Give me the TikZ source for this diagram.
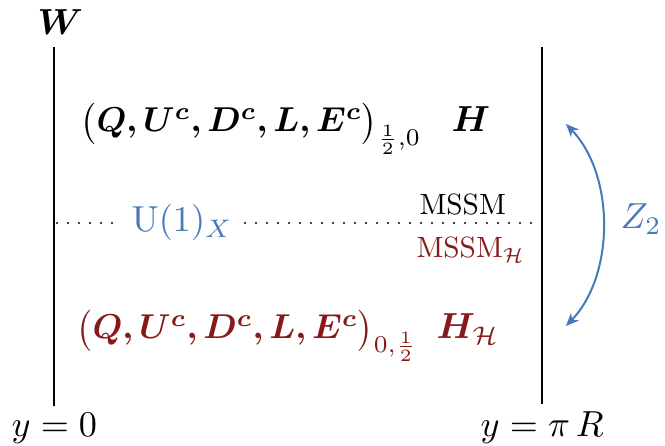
\RequirePackage{fix-cm}
\documentclass[tikz,border=0pt]{standalone}
\usepackage{amsmath}
\usepackage{bm}
\usetikzlibrary{arrows.meta}
\definecolor{myblue}{RGB}{70,120,190}
\definecolor{myred}{RGB}{135,25,25}
\tikzset{
  big/.style={font=\normalsize, inner sep=0pt, scale=3.62, transform shape},
  tuple/.style={font=\normalsize, inner sep=0pt, scale=3.45, transform shape},
  small/.style={font=\normalsize, inner sep=0pt, scale=2.93, transform shape},
  wall/.style={line width=2pt, black},
  dots/.style={line width=2.4pt, dash pattern=on 0pt off 11pt, line cap=round},
  z2arrow/.style={myblue, line width=2pt, {Stealth[length=13pt,width=11pt]}-{Stealth[length=13pt,width=11pt]}}
}
\begin{document}
\begin{tikzpicture}[x=1pt,y=-1pt]
\useasboundingbox (0,0) rectangle (665,446);
% walls
\coordinate (lt) at (54,47);
\coordinate (lb) at (54,406);
\coordinate (rt) at (542,47);
\coordinate (rb) at (542,404);
\draw[wall] (lt) -- (lb);
\draw[wall] (rt) -- (rb);
% labels
\node[big, anchor=base west] (W) at (37,35) {$\bm{W}$};
\node[tuple, anchor=base west] (top) at (80,132) {$\bm{\big(Q,U^c,D^c,L,E^c\big)}_{\frac12,0}$};
\node[big, anchor=base west] (H) at (451,132) {$\bm{H}$};
\node[tuple, anchor=base west, text=myred] (bot) at (76,339) {$\bm{\big(Q,U^c,D^c,L,E^c\big)}_{0,\frac12}$};
\node[big, anchor=base west, text=myred] (HH) at (436,339) {$\bm{H}_{\mathcal H}$};
\node[big, anchor=base west, text=myblue] (U1) at (131,232) {$\mathrm{U}(1)_X$};
\node[small, anchor=base west] (mssm) at (419,215) {MSSM};
\node[small, anchor=base west, text=myred] (mssmH) at (416,258) {MSSM$_{\mathcal H}$};
\node[big, anchor=base west, text=myblue] (Z2) at (620,229) {$Z_2$};
\node[big, anchor=base west] (y0) at (11,437) {$y=0$};
\node[big, anchor=base west] (ypi) at (480,437) {$y=\pi\,R$};
% dotted line
\coordinate (d1) at (57,223);
\coordinate (d2) at (113,223);
\coordinate (d3) at (245,223);
\coordinate (d4) at (540,223);
\draw[dots] (d1) -- (d2);
\draw[dots] (d3) -- (d4);
% Z2 arrow
\coordinate (at) at (566,124);
\coordinate (ab) at (566,326);
\draw[z2arrow] (at) .. controls (615,175) and (615,275) .. (ab);
\end{tikzpicture}
\end{document}
